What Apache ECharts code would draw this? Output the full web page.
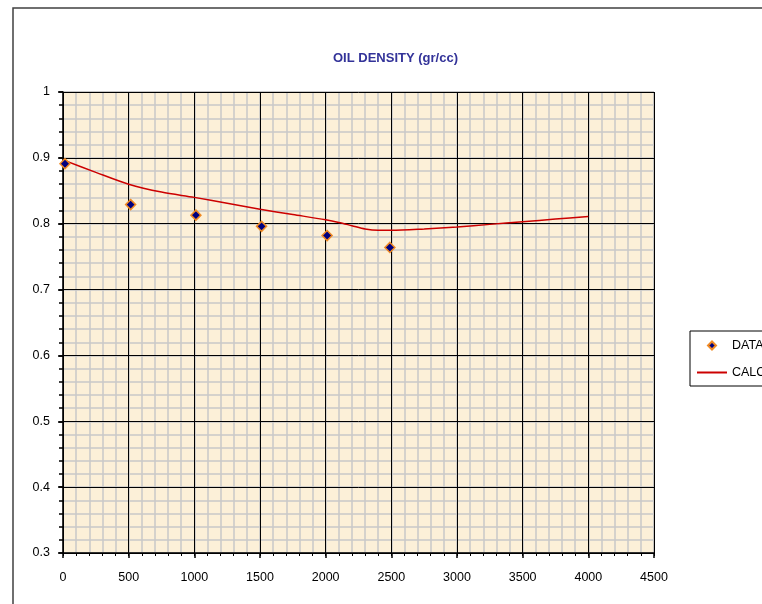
<!DOCTYPE html>
<html>
<head>
<meta charset="utf-8">
<script src="https://cdn.jsdelivr.net/npm/echarts@6/dist/echarts.min.js"></script>
<style>html,body{margin:0;padding:0;background:#fff;}#c{width:762px;height:604px;}</style>
</head>
<body>
<div id="c"></div>
<script>
// Data
const dataDepth = [15, 515, 1012, 1512, 2011, 2489];
const dataDensity = [0.891, 0.829, 0.813, 0.796, 0.782, 0.764];

const calcDepth = [0, 250, 500, 750, 1000, 1250, 1500, 1750, 2000, 2100, 2200, 2300, 2400, 2500, 2750, 3000, 3250, 3500, 3750, 4000];
const calcDensity = [0.897, 0.878, 0.860, 0.848, 0.840, 0.831, 0.822, 0.814, 0.806, 0.802, 0.797, 0.792, 0.790, 0.790, 0.792, 0.795, 0.799, 0.803, 0.807, 0.811];

const titleText = 'OIL DENSITY (gr/cc)';
const seriesNames = ['DATA', 'CALCULATED'];

const FONT = 'Liberation Sans, Arial, sans-serif';
const chart = echarts.init(document.getElementById('c'), null, {renderer: 'canvas'});

const zip = (a, b) => a.map((v, i) => [v, b[i]]);

chart.setOption({
  animation: false,
  backgroundColor: '#ffffff',
  title: {
    text: titleText,
    left: 333, top: 52, padding: 0,
    textStyle: {fontFamily: FONT, fontSize: 13, fontWeight: 'bold', color: '#333399'}
  },
  graphic: [{
    type: 'rect', z: 0, silent: true,
    shape: {x: 13, y: 8, width: 900, height: 800},
    style: {fill: 'none', stroke: '#404040', lineWidth: 1.5}
  }],
  legend: {
    left: 690, top: 331,
    orient: 'vertical',
    padding: [8, 20, 7, 6],
    itemGap: 14,
    itemWidth: 30, itemHeight: 10,
    borderColor: '#000', borderWidth: 1,
    backgroundColor: '#fff',
    textStyle: {fontFamily: FONT, fontSize: 12.5, color: '#000'},
    data: [
      {name: seriesNames[0]},
      {name: seriesNames[1], itemStyle: {opacity: 0}}
    ]
  },
  grid: {
    left: 63, right: 108, top: 92, bottom: 51,
    show: true, backgroundColor: '#FCF0D8', borderColor: '#808080', borderWidth: 1
  },
  xAxis: [
    {
      type: 'value', min: 0, max: 4500, interval: 500, position: 'bottom', z: 3,
      axisLine: {show: true, onZero: false, lineStyle: {color: '#000', width: 1.5}},
      axisTick: {show: true, inside: false, length: 5, lineStyle: {color: '#000', width: 1.5}},
      splitLine: {show: true, lineStyle: {color: '#000', width: 1}},
      axisLabel: {margin: 18, fontFamily: FONT, fontSize: 12.5, color: '#000',
        formatter: v => String(v)}
    },
    {
      type: 'value', min: 0, max: 4500, interval: 100, position: 'bottom', z: 1,
      axisLine: {show: false, onZero: false},
      axisTick: {show: true, inside: false, length: 3, lineStyle: {color: '#000', width: 1}},
      splitLine: {show: true, lineStyle: {color: '#C8C8C8', width: 1.5}},
      axisLabel: {show: false}
    }
  ],
  yAxis: [
    {
      type: 'value', min: 0.3, max: 1, interval: 0.1, position: 'left', z: 3,
      axisLine: {show: true, onZero: false, lineStyle: {color: '#000', width: 1.5}},
      axisTick: {show: true, inside: false, length: 5, lineStyle: {color: '#000', width: 1.5}},
      splitLine: {show: true, lineStyle: {color: '#000', width: 1}},
      axisLabel: {margin: 13, fontFamily: FONT, fontSize: 12.5, color: '#000',
        formatter: v => String(+v.toFixed(2))}
    },
    {
      type: 'value', min: 0.3, max: 1, interval: 0.02, position: 'left', z: 1,
      axisLine: {show: false, onZero: false},
      axisTick: {show: true, inside: false, length: 4, lineStyle: {color: '#000', width: 1.5}},
      splitLine: {show: true, lineStyle: {color: '#C8C8C8', width: 1.5}},
      axisLabel: {show: false}
    }
  ],
  series: [
    {
      name: seriesNames[0], type: 'line', z: 10,
      data: zip(dataDepth, dataDensity),
      symbol: 'diamond', symbolSize: 10, showSymbol: true,
      lineStyle: {color: 'rgba(0,0,0,0)', width: 0},
      itemStyle: {color: '#000080', borderColor: '#F08A24', borderWidth: 1.5}
    },
    {
      name: seriesNames[1], type: 'line', z: 9,
      data: zip(calcDepth, calcDensity),
      symbol: 'none', smooth: 0.3,
      lineStyle: {color: '#CC0000', width: 1.5},
      itemStyle: {color: '#CC0000'}
    }
  ]
});
</script>
</body>
</html>
